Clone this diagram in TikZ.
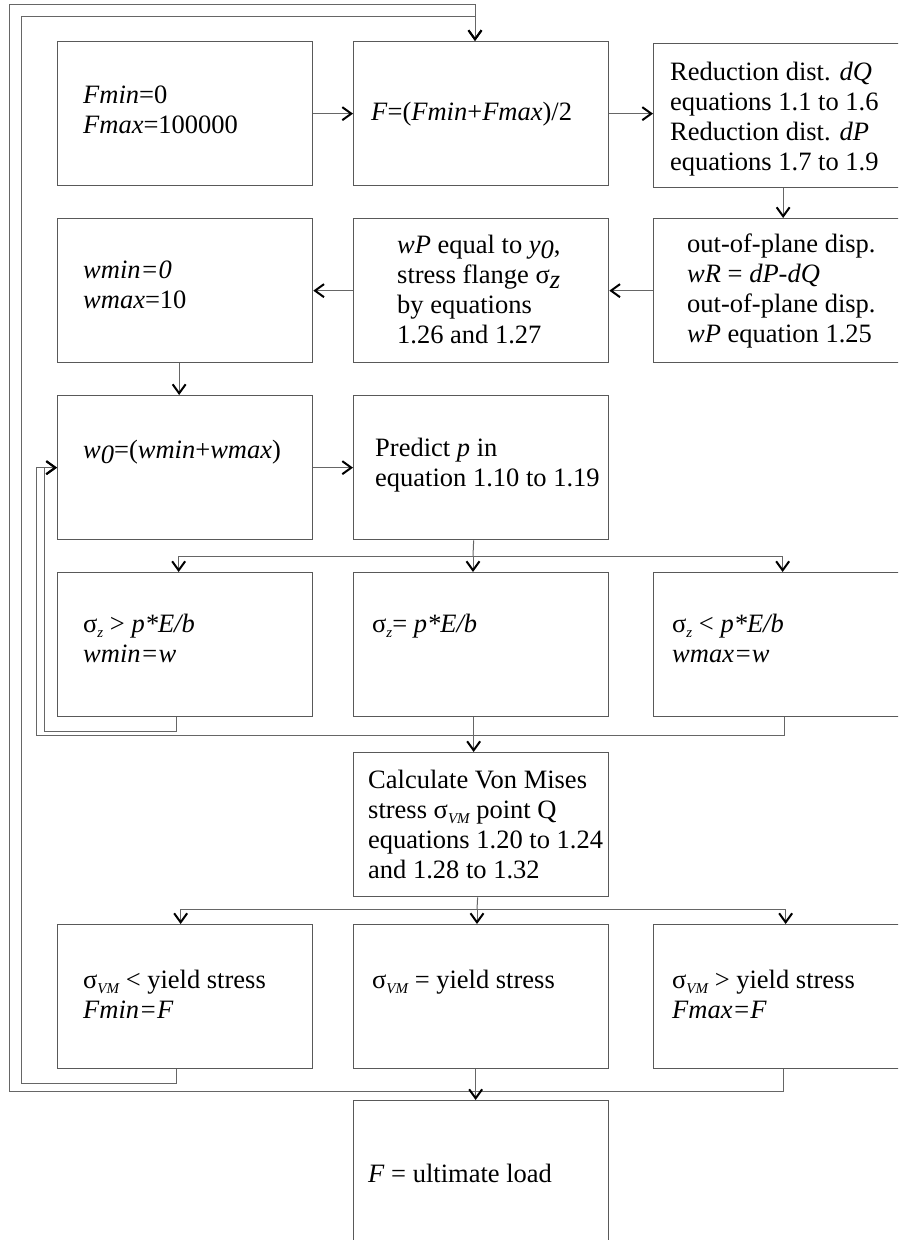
\documentclass[tikz,border=0pt]{standalone}
\usepackage{fontspec}
\setmainfont{Liberation Serif}
\usetikzlibrary{arrows.meta}
\definecolor{boxgray}{gray}{0.35}
\definecolor{linegray}{gray}{0.4}
\newcommand{\mylines}[1]{\vtop{\baselineskip=30.3pt\halign{##\hfil\cr #1\crcr}}}
\newcommand{\bsub}[1]{\raisebox{-0.2em}{\itshape #1}}
\newcommand{\ssub}[1]{\raisebox{-5pt}{\fontsize{15}{15}\selectfont\itshape #1}}
\begin{document}
\begin{tikzpicture}[x=1pt,y=-1pt,
  box/.style={draw=boxgray,line width=1.3pt,minimum width=255pt,minimum height=144pt,inner sep=0pt,anchor=north west},
  txt/.style={inner sep=0pt,anchor=base west,font=\fontsize{26.5}{30.3}\selectfont},
  conn/.style={draw=linegray,line width=1pt},
  arr/.style={conn,-{Straight Barb[length=9pt,width=13pt,line width=2pt,color=black]}}]
\useasboundingbox (0,0) rectangle (898,1240);
\clip (0,0) rectangle (898,1240);
% boxes
\node[box] (b1) at (57,41) {};
\node[box] (b2) at (353,41) {};
\node[box] (b3) at (653,43) {};
\node[box] (b4) at (57,218) {};
\node[box] (b5) at (353,218) {};
\node[box] (b6) at (653,218) {};
\node[box] (b7) at (57,395) {};
\node[box] (b8) at (353,395) {};
\node[box] (b9) at (57,572) {};
\node[box] (b10) at (353,572) {};
\node[box] (b11) at (653,572) {};
\node[box] (b12) at (353,752) {};
\node[box] (b13) at (57,924) {};
\node[box] (b14) at (353,924) {};
\node[box] (b15) at (653,924) {};
\node[box] (b16) at (353,1100) {};
% texts
\node[txt] (t1) at (83,103) {\mylines{\textit{Fmin}=0\cr \textit{Fmax}=100000}};
\node[txt] (t2) at (371,120) {\textit{F}=(\textit{Fmin}+\textit{Fmax})/2};
\node[txt] (t3) at (670,80) {\mylines{Reduction dist. \textit{dQ}\cr equations 1.1 to 1.6\cr Reduction dist. \textit{dP}\cr equations 1.7 to 1.9}};
\node[txt] (t4) at (83,278) {\mylines{\textit{wmin=0}\cr \textit{wmax}=10}};
\node[txt] (t5) at (397,253) {\mylines{\textit{wP} equal to \textit{y}\bsub{0},\cr stress flange σ\bsub{z}\cr by equations\cr 1.26 and 1.27}};
\node[txt] (t6) at (687,252) {\mylines{out-of-plane disp.\cr \textit{wR} = \textit{dP-dQ}\cr out-of-plane disp.\cr \textit{wP} equation 1.25}};
\node[txt] (t7) at (83,458) {\textit{w}\bsub{0}=(\textit{wmin}+\textit{wmax})};
\node[txt] (t8) at (375,456) {\mylines{Predict \textit{p} in\cr equation 1.10 to 1.19}};
\node[txt] (t9) at (83,632) {\mylines{σ\ssub{z} > \textit{p*E/b}\cr \textit{wmin=w}}};
\node[txt] (t10) at (372,632) {σ\ssub{z}= \textit{p*E/b}};
\node[txt] (t11) at (672,632) {\mylines{σ\ssub{z} < \textit{p*E/b}\cr \textit{wmax=w}}};
\node[txt] (t12) at (368,788) {\mylines{Calculate Von Mises\cr stress σ\ssub{VM} point Q\cr equations 1.20 to 1.24\cr and 1.28 to 1.32}};
\node[txt] (t13) at (83,988) {\mylines{σ\ssub{VM} < yield stress\cr \textit{Fmin=F}}};
\node[txt] (t14) at (372,988) {σ\ssub{VM} = yield stress};
\node[txt] (t15) at (672,988) {\mylines{σ\ssub{VM} > yield stress\cr \textit{Fmax=F}}};
\node[txt] (t16) at (368,1182) {\textit{F} = ultimate load};
% connectors
\draw[arr] (b1.east) -- (b2.west);
\draw[arr] (b2.east) -- (b2.east -| b3.west);
\draw[arr] ([xshift=2pt]b3.south) -- ([xshift=2pt]b6.north);
\draw[arr] (b6.west) -- (b5.east);
\draw[arr] (b5.west) -- (b4.east);
\draw[arr] ([xshift=-6pt]b4.south) -- ([xshift=-6pt]b7.north);
\draw[arr] (b7.east) -- (b8.west);
\coordinate (j1) at (473,556);
\draw[conn] ([xshift=-7.5pt]b8.south) -- (j1);
\draw[arr] (j1) -- (j1 |- b10.north);
\draw[arr] (j1) -| ([xshift=-6.5pt]b9.north);
\draw[arr] (j1) -| ([xshift=1.5pt]b11.north);
\coordinate (k1) at (44,731);
\coordinate (k2) at (36,735);
\draw[arr] ([xshift=-8.5pt]b9.south) |- (k1) |- (b7.west);
\draw[arr] ([xshift=3.5pt]b11.south) |- (k2) |- (b7.west);
\draw[arr] ([xshift=-7.5pt]b10.south) -- ([xshift=-7.5pt]b12.north);
\coordinate (j2) at (477,909);
\draw[conn] ([xshift=-3.5pt]b12.south) -- (j2);
\draw[arr] (j2) -- (j2 |- b14.north);
\draw[arr] (j2) -| ([xshift=-4.5pt]b13.north);
\draw[arr] (j2) -| ([xshift=4.5pt]b15.north);
\coordinate (m1) at (21,1083);
\coordinate (m2) at (9.5,1091);
\coordinate (top1) at (475,16);
\coordinate (top2) at (475,4.7);
\draw[arr] ([xshift=-8.5pt]b13.south) |- (m1) |- (top1) -- (top1 |- b2.north);
\draw[arr] ([xshift=2.5pt]b15.south) |- (m2) |- (top2) -- (top2 |- b2.north);
\draw[arr] ([xshift=-5.5pt]b14.south) -- ([xshift=-5.5pt]b16.north);
\end{tikzpicture}
\end{document}
